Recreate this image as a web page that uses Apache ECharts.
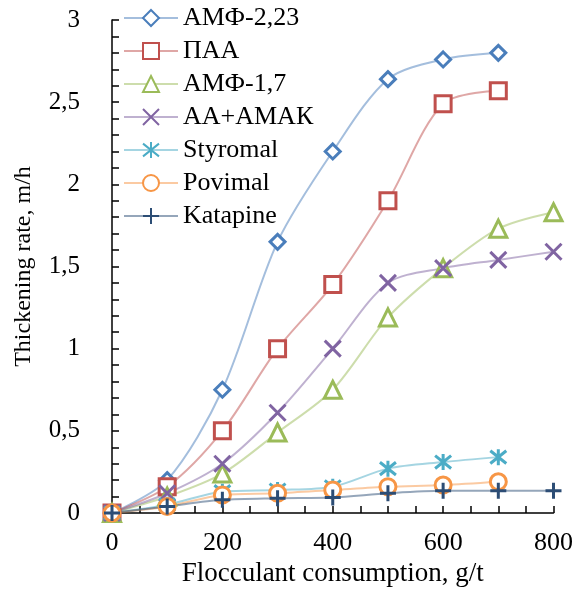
<!DOCTYPE html>
<html>
<head>
<meta charset="utf-8">
<script src="https://cdn.jsdelivr.net/npm/echarts@6/dist/echarts.min.js"></script>
<style>
  html, body { margin: 0; padding: 0; background: #fff; }
  #chart { width: 576px; height: 601px; }
</style>
</head>
<body>
<div id="chart"></div>
<script>
// flocculant consumption, g/t
var doses = [0, 100, 200, 300, 400, 500, 600, 700, 800];
var seriesNames = ['АМФ-2,23', 'ПАА', 'АМФ-1,7', 'АА+АМАК', 'Styromal', 'Povimal', 'Katapine'];
// thickening rate, m/h
var amf223   = [0, 0.20, 0.75, 1.65, 2.20, 2.64, 2.76, 2.80];
var paa      = [0, 0.16, 0.50, 1.00, 1.39, 1.90, 2.49, 2.57];
var amf17    = [0, 0.10, 0.24, 0.49, 0.75, 1.19, 1.49, 1.73, 1.83];
var aaAmak   = [0, 0.12, 0.30, 0.61, 1.00, 1.40, 1.49, 1.54, 1.59];
var styromal = [0, 0.05, 0.13, 0.14, 0.16, 0.27, 0.31, 0.34];
var povimal  = [0, 0.04, 0.11, 0.12, 0.14, 0.16, 0.17, 0.19];
var katapine = [0, 0.04, 0.08, 0.09, 0.095, 0.12, 0.135, 0.135, 0.135];

var values = [amf223, paa, amf17, aaAmak, styromal, povimal, katapine];
var colors = ['#4a7ebb', '#c0504d', '#9bbb59', '#8064a2', '#4bacc6', '#f79646', '#2c4d75'];
var symbols = [
  'diamond', 'rect', 'triangle',
  'path://M0,0L10,10M10,0L0,10',
  'path://M1,1L9,9M9,1L1,9M5,0L5,10',
  'circle',
  'path://M5,0L5,10M0,5L10,5'
];
var sizes = [15, 16, 17, 16, 16, 16, 16];

function pairs(arr) {
  var out = [];
  for (var i = 0; i < arr.length; i++) {
    out.push([doses[i], arr[i]]);
  }
  return out;
}

var series = [];
for (var i = 0; i < seriesNames.length; i++) {
  series.push({
    name: seriesNames[i],
    type: 'line',
    smooth: 0.3,
    data: pairs(values[i]),
    symbol: symbols[i],
    symbolSize: sizes[i],
    lineStyle: { color: colors[i], width: 2, opacity: 0.5 },
    itemStyle: { color: '#fff', borderColor: colors[i], borderWidth: 3 },
    emphasis: { disabled: true }
  });
}

var font = 'Liberation Serif, Times New Roman, serif';
var chart = echarts.init(document.getElementById('chart'));
chart.setOption({
  animation: false,
  textStyle: { fontFamily: font },
  legend: {
    orient: 'vertical',
    left: 123,
    top: 5,
    padding: 0,
    itemWidth: 54,
    itemHeight: 20,
    itemGap: 7,
    textStyle: { fontFamily: font, fontSize: 26, color: '#000' },
    data: seriesNames
  },
  grid: { left: 112, right: 22, top: 20, bottom: 88 },
  xAxis: {
    type: 'value',
    min: 0, max: 800, interval: 200,
    name: 'Flocculant consumption, g/t',
    nameLocation: 'middle',
    nameGap: 44,
    nameTextStyle: { fontFamily: font, fontSize: 27, color: '#000' },
    axisLine: { lineStyle: { color: '#000', width: 1.5 } },
    axisTick: { show: true, inside: true, length: 7, lineStyle: { color: '#000', width: 1.5 } },
    minorTick: { show: true, splitNumber: 4, length: 7, lineStyle: { color: '#000', width: 1.5 } },
    axisLabel: { fontFamily: font, fontSize: 26, color: '#000', margin: 17 },
    splitLine: { show: false }
  },
  yAxis: {
    type: 'value',
    min: 0, max: 3, interval: 0.5,
    name: 'Thickening rate, m/h',
    nameLocation: 'middle',
    nameGap: 76,
    nameTextStyle: { fontFamily: font, fontSize: 24, color: '#000' },
    axisLine: { show: true, lineStyle: { color: '#000', width: 1.5 } },
    axisTick: { show: true, inside: true, length: 7, lineStyle: { color: '#000', width: 1.5 } },
    minorTick: { show: true, splitNumber: 5, length: 7, lineStyle: { color: '#000', width: 1.5 } },
    axisLabel: {
      fontFamily: font, fontSize: 25, color: '#000', margin: 32,
      formatter: function (v) { return String(v).replace('.', ','); }
    },
    splitLine: { show: false }
  },
  series: series
});
</script>
</body>
</html>
